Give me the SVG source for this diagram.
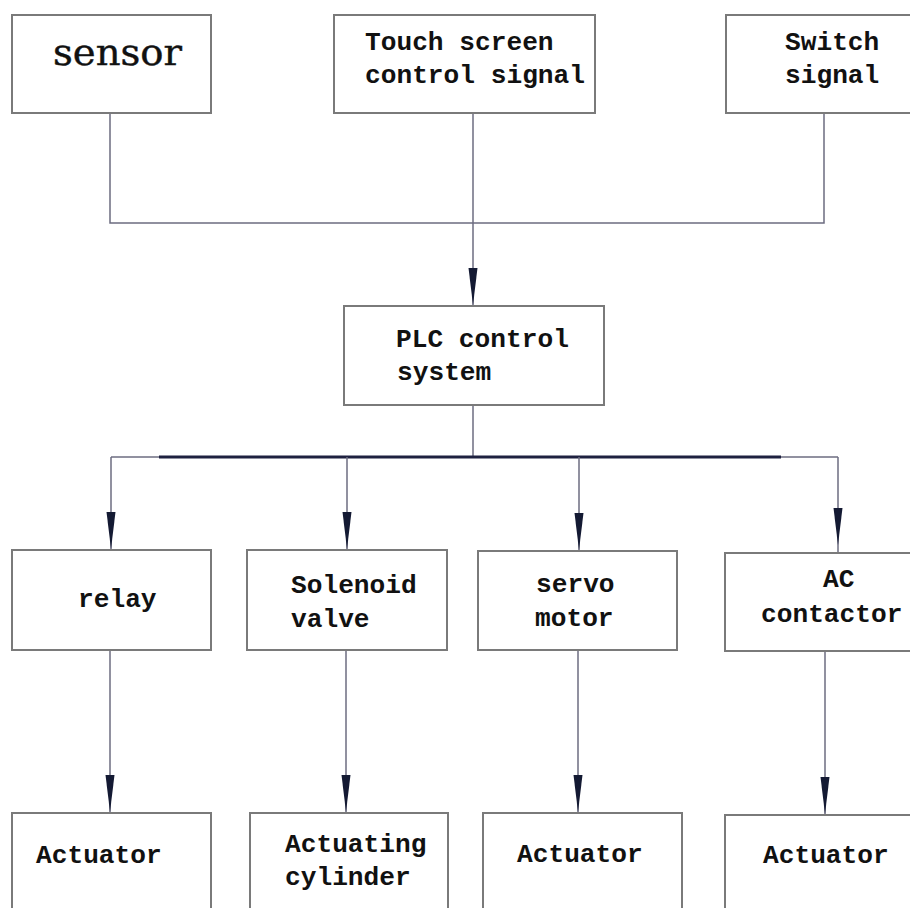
<svg xmlns="http://www.w3.org/2000/svg" width="910" height="908" viewBox="0 0 910 908">
  <style>
    .box { fill: #ffffff; stroke: #7a7a7a; stroke-width: 2; }
    .wire { fill: none; stroke: #6c6c80; stroke-width: 1.5; }
    .bus { fill: none; stroke: #1e2140; stroke-width: 3; }
    .lbl { font-family: "Liberation Mono", "DejaVu Sans Mono", monospace; font-weight: bold; font-size: 26.2px; fill: #111111; }
    .serif { font-family: "DejaVu Serif", "Liberation Serif", serif; font-size: 35px; fill: #111111; }
    .head { fill: #141a33; }
  </style>
  <defs>
    <!-- slim downward arrowhead, tip at the origin -->
    <path id="ah" class="head" d="M0,0 L-4.5,-37 L4.5,-37 Z"/>
  </defs>

  <rect width="910" height="908" fill="#ffffff"/>

  <g id="connectors">
    <path class="wire" d="M110,113 V223 H824 V113"/>
    <path class="wire" d="M473,113 V305"/>
    <use href="#ah" x="473" y="305"/>
    <path class="wire" d="M473,405 V457"/>
    <path class="wire" d="M111,457 H838"/>
    <path class="bus" d="M159,457 H781"/>
    <path class="wire" d="M111,457 V549"/>
    <path class="wire" d="M347,457 V549"/>
    <path class="wire" d="M579,457 V550"/>
    <path class="wire" d="M838,457 V552"/>
    <use href="#ah" x="111" y="549"/>
    <use href="#ah" x="347" y="549"/>
    <use href="#ah" x="579" y="550"/>
    <use href="#ah" x="838" y="545"/>
    <path class="wire" d="M110,650 V812"/>
    <path class="wire" d="M346,650 V812"/>
    <path class="wire" d="M578,650 V812"/>
    <path class="wire" d="M825,651 V814"/>
    <use href="#ah" x="110" y="812"/>
    <use href="#ah" x="346" y="812"/>
    <use href="#ah" x="578" y="812"/>
    <use href="#ah" x="825" y="814"/>
  </g>

  <g id="sensor">
    <rect class="box" x="12" y="15" width="199" height="98"/>
    <text class="serif" x="53" y="65" textLength="129" lengthAdjust="spacingAndGlyphs" stroke="#111111" stroke-width="0.4">sensor</text>
  </g>
  <g id="touch-screen">
    <rect class="box" x="334" y="15" width="261" height="98"/>
    <text class="lbl" x="365" y="50">Touch screen</text>
    <text class="lbl" x="365" y="83">control signal</text>
  </g>
  <g id="switch-signal">
    <rect class="box" x="726" y="15" width="200" height="98"/>
    <text class="lbl" x="785" y="50">Switch</text>
    <text class="lbl" x="785" y="83">signal</text>
  </g>

  <g id="plc">
    <rect class="box" x="344" y="306" width="260" height="99"/>
    <text class="lbl" x="396" y="347">PLC control</text>
    <text class="lbl" x="397" y="380">system</text>
  </g>

  <g id="relay">
    <rect class="box" x="12" y="550" width="199" height="100"/>
    <text class="lbl" x="78" y="607">relay</text>
  </g>
  <g id="solenoid-valve">
    <rect class="box" x="247" y="550" width="200" height="100"/>
    <text class="lbl" x="291" y="593">Solenoid</text>
    <text class="lbl" x="291" y="627">valve</text>
  </g>
  <g id="servo-motor">
    <rect class="box" x="478" y="551" width="199" height="99"/>
    <text class="lbl" x="536" y="592">servo</text>
    <text class="lbl" x="535" y="626">motor</text>
  </g>
  <g id="ac-contactor">
    <rect class="box" x="725" y="553" width="200" height="98"/>
    <text class="lbl" x="823" y="587">AC</text>
    <text class="lbl" x="761" y="622">contactor</text>
  </g>

  <g id="actuator-1">
    <rect class="box" x="12" y="813" width="199" height="120"/>
    <text class="lbl" x="36" y="863">Actuator</text>
  </g>
  <g id="actuating-cylinder">
    <rect class="box" x="250" y="813" width="198" height="120"/>
    <text class="lbl" x="285" y="852">Actuating</text>
    <text class="lbl" x="285" y="885">cylinder</text>
  </g>
  <g id="actuator-3">
    <rect class="box" x="483" y="813" width="199" height="120"/>
    <text class="lbl" x="517" y="862">Actuator</text>
  </g>
  <g id="actuator-4">
    <rect class="box" x="725" y="815" width="200" height="120"/>
    <text class="lbl" x="763" y="863">Actuator</text>
  </g>
</svg>
